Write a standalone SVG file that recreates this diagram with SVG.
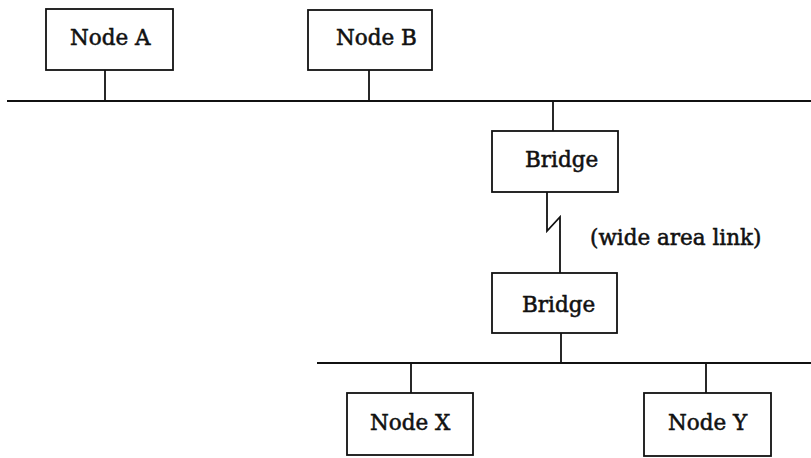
<svg xmlns="http://www.w3.org/2000/svg" width="811" height="458" viewBox="0 0 811 458">
  <style>
    .box { fill: #fff; stroke: #111; stroke-width: 1.8; }
    .wire { fill: none; stroke: #111; stroke-width: 1.8; }
    .lbl { font-family: "DejaVu Serif", "Liberation Serif", serif; font-size: 21.5px; fill: #111; stroke: #111; stroke-width: 0.55; }
  </style>
  <rect width="811" height="458" fill="#fff"/>

  <!-- LAN segments, drop lines and the WAN link -->
  <g id="connectors">
    <line class="wire" x1="7" y1="101" x2="811" y2="101"/>
    <line class="wire" x1="317" y1="363" x2="811" y2="363"/>
    <line class="wire" x1="105" y1="70" x2="105" y2="101"/>
    <line class="wire" x1="369" y1="70" x2="369" y2="101"/>
    <line class="wire" x1="553" y1="101" x2="553" y2="131"/>
    <polyline class="wire" points="547,192 547,231 560,217 560,273"/>
    <line class="wire" x1="561" y1="333" x2="561" y2="363"/>
    <line class="wire" x1="411" y1="363" x2="411" y2="393"/>
    <line class="wire" x1="706" y1="363" x2="706" y2="393"/>
  </g>

  <g id="node-a">
    <rect class="box" x="46" y="9" width="127" height="61"/>
    <text class="lbl" x="70" y="45">Node A</text>
  </g>
  <g id="node-b">
    <rect class="box" x="308" y="10" width="124" height="60"/>
    <text class="lbl" x="336" y="45">Node B</text>
  </g>
  <g id="bridge-1">
    <rect class="box" x="492" y="131" width="126" height="61"/>
    <text class="lbl" x="525" y="167">Bridge</text>
  </g>
  <g id="wan-label">
    <text class="lbl" x="590" y="245">(wide area link)</text>
  </g>
  <g id="bridge-2">
    <rect class="box" x="492" y="273" width="125" height="60"/>
    <text class="lbl" x="522" y="312">Bridge</text>
  </g>
  <g id="node-x">
    <rect class="box" x="347" y="393" width="126" height="62"/>
    <text class="lbl" x="370" y="430">Node X</text>
  </g>
  <g id="node-y">
    <rect class="box" x="644" y="393" width="127" height="63"/>
    <text class="lbl" x="668" y="430">Node Y</text>
  </g>
</svg>
